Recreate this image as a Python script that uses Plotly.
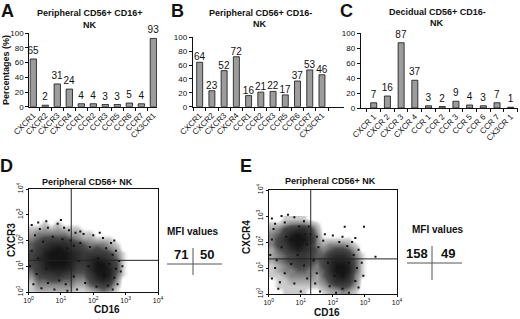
import plotly.graph_objects as go

W, H = 520, 319

# ---------------- data ----------------
receptors_AB = ["CXCR1", "CXCR2", "CXCR3", "CXCR4", "CCR1", "CCR2", "CCR3", "CCR5", "CCR6", "CCR7", "CX3CR1"]
receptors_C = ["CXCR 1", "CXCR 2", "CXCR 3", "CXCR 4", "CCR 1", "CCR 2", "CCR 3", "CCR 5", "CCR 6", "CCR 7", "CX3CR 1"]
pct_A = [65, 2, 31, 24, 4, 4, 3, 3, 5, 4, 93]
pct_B = [64, 23, 52, 72, 16, 21, 22, 17, 37, 53, 46]
pct_C = [7, 16, 87, 37, 3, 2, 9, 4, 3, 7, 1]

decade_ticks = [0, 1, 2, 3, 4]
decade_labels = ["10<sup>0</sup>", "10<sup>1</sup>", "10<sup>2</sup>", "10<sup>3</sup>", "10<sup>4</sup>"]

# density of events per 0.2-decade cell (rows listed from log y 3.0 down to 0.0; cols log x 0..4)
density_D = [
    "00000000000000000000",
    "00101000000000000000",
    "11212111000000000000",
    "23333322110000000000",
    "34555543221110000000",
    "45677765433321000000",
    "46789876545432000000",
    "56899987666653100000",
    "57899987678764100000",
    "56899986679975100000",
    "46788875579985100000",
    "35667654468984100000",
    "24455443357873000000",
    "13333332245652000000",
    "12222221123431000000",
]
density_E = [
    "00111100000000000000",
    "11233321000000000000",
    "23567752000000000000",
    "34689863000000000000",
    "35799973111110000000",
    "35689863233321000000",
    "24578764345542000000",
    "23456654467763100000",
    "23456654578874100000",
    "12345543579984100000",
    "12334433479984100000",
    "11233332468973100000",
    "01122222357763000000",
    "01111111234542000000",
    "00111100122321000000",
]
# individual events (log10 CD16, log10 receptor)
events_D_x = [0.1, 0.3, 0.55, 0.9, 1.1, 1.25, 1.45, 1.7, 2.0, 2.3, 2.55, 2.7, 2.8, 2.85, 2.75, 2.6, 1.5, 1.2, 0.8, 0.4,
              0.15, 0.05, 0.6, 1.3, 2.2, 1.0, 0.35, 2.9, 2.65, 1.6,
              0.2, 0.45, 0.75, 1.05, 1.2, 1.4, 1.6, 1.9, 2.4, 2.6, 2.7, 2.65, 2.45, 2.1, 1.75, 1.4, 1.15, 0.95, 0.6, 0.25,
              0.1, 0.3, 0.55, 0.85, 1.0, 1.55, 1.85, 2.15, 2.35, 2.5]
events_D_y = [2.6, 2.7, 2.75, 2.65, 2.5, 2.4, 2.3, 2.25, 2.2, 2.1, 1.9, 1.6, 1.2, 0.8, 0.3, 0.1, 0.1, 0.05, 0.1, 0.15,
              0.3, 1.0, 2.5, 2.0, 2.3, 2.8, 2.45, 1.0, 2.0, 2.35,
              2.2, 1.95, 2.15, 2.05, 1.7, 1.8, 1.9, 1.75, 1.7, 1.45, 0.9, 0.55, 0.25, 0.2, 0.35, 0.6, 0.3, 0.45, 0.35, 0.7,
              1.6, 1.3, 0.9, 1.5, 1.1, 1.2, 1.0, 1.3, 0.6, 1.1]
events_E_x = [0.1, 0.4, 0.8, 1.1, 1.25, 1.3, 1.5, 1.75, 2.0, 2.3, 2.6, 2.8, 2.9, 2.95, 2.8, 2.5, 1.6, 1.0, 0.3, 0.1,
              0.05, 0.15, 2.37, 2.97, 3.33, 0.6, 2.1, 1.45, 2.7, 0.2,
              0.2, 0.5, 0.95, 1.15, 1.2, 0.9, 1.1, 1.2, 0.8, 0.5, 0.25, 0.1, 0.55, 1.55, 1.7, 2.2, 2.45, 2.65, 2.75, 2.7,
              2.3, 1.9, 1.5, 1.4, 1.85, 2.05, 2.5, 0.35, 0.7, 0.4]
events_E_y = [2.9, 3.0, 2.95, 2.8, 2.6, 2.3, 2.2, 2.3, 2.25, 2.2, 2.0, 1.7, 1.2, 0.7, 0.25, 0.05, 0.1, 0.1, 0.2, 0.6,
              1.5, 2.5, 2.59, 2.59, 1.43, 3.05, 0.05, 0.4, 2.15, 1.0,
              2.7, 2.75, 2.6, 2.3, 1.9, 1.5, 1.1, 0.6, 0.4, 0.8, 1.3, 2.1, 2.2, 1.8, 2.05, 2.0, 1.85, 1.5, 1.0, 0.5,
              0.2, 0.3, 0.8, 1.3, 1.2, 0.7, 1.2, 0.45, 1.15, 1.8]
gate_D = (1.32, 1.23)
gate_E = (1.31, 1.35)
mfi_D = ["71", "50"]
mfi_E = ["158", "49"]

# ---------------- helpers ----------------
def fx(p):
    return p / W

def fy(p):
    return 1 - p / H

NARROW = "Liberation Sans Narrow, Arial Narrow, Liberation Sans, Arial"
SANS = "Liberation Sans, Arial, DejaVu Sans"

fig = go.Figure()

bar_panels = [
    ("x", "y", receptors_AB, pct_A, 0.53),
    ("x2", "y2", receptors_AB, pct_B, 0.49),
    ("x3", "y3", receptors_C, pct_C, 0.44),
]
for xa, ya, cats, vals, bw in bar_panels:
    fig.add_trace(go.Bar(
        x=cats, y=vals, xaxis=xa, yaxis=ya, width=bw,
        marker=dict(color="#9c9c9c", line=dict(color="#111", width=0.8)),
        text=vals, textposition="outside", cliponaxis=False, constraintext="none",
        textfont=dict(family=NARROW, size=10, color="#111"),
        hoverinfo="skip", showlegend=False,
    ))

def grid(rows):
    return [[int(c) for c in r] for r in reversed(rows)]

for xa, ya, dens, sx, sy in [("x4", "y4", density_D, events_D_x, events_D_y),
                             ("x5", "y5", density_E, events_E_x, events_E_y)]:
    fig.add_trace(go.Heatmap(
        z=grid(dens), x0=0.1, dx=0.2, y0=0.1, dy=0.2, xaxis=xa, yaxis=ya,
        zmin=0, zmax=9, zsmooth="best", showscale=False, hoverinfo="skip",
        colorscale=[[0, "rgba(255,255,255,0)"], [0.1, "#cfcfcf"], [0.5, "#4a4a4a"], [1, "#141414"]],
    ))
    fig.add_trace(go.Scatter(
        x=sx, y=sy, xaxis=xa, yaxis=ya, mode="markers",
        marker=dict(size=2, color="#111", symbol="square"),
        hoverinfo="skip", showlegend=False,
    ))

# ---------------- axes ----------------
bar_common_x = dict(type="category", showline=True, linecolor="#111", linewidth=1,
                    ticks="outside", tickson="boundaries", ticklen=3, tickcolor="#111",
                    tickangle=-45, tickfont=dict(family=NARROW, size=8, color="#111"),
                    showgrid=False, zeroline=False, fixedrange=True, automargin=False)
bar_common_y = dict(range=[0, 100], dtick=20, showline=True, linecolor="#111", linewidth=1,
                    ticks="outside", ticklen=3, tickcolor="#111",
                    tickfont=dict(family=NARROW, size=8, color="#111"),
                    showgrid=False, zeroline=False, fixedrange=True, automargin=False)

layout_axes = {}
layout_axes["xaxis"] = dict(bar_common_x, domain=[fx(29.3), fx(157)], range=[-0.33, 10.3], anchor="y")
layout_axes["yaxis"] = dict(bar_common_y, domain=[fy(106.7), fy(33.3)], anchor="x")
layout_axes["xaxis2"] = dict(bar_common_x, domain=[fx(192.7), fx(344)], range=[-0.57, 11.8], anchor="y2")
layout_axes["yaxis2"] = dict(bar_common_y, domain=[fy(106.7), fy(37.3)], anchor="x2")
layout_axes["xaxis3"] = dict(bar_common_x, domain=[fx(360.7), fx(518)], range=[-0.95, 10.53], anchor="y3")
layout_axes["yaxis3"] = dict(bar_common_y, domain=[fy(108), fy(33)], anchor="x3")

flow_x = dict(range=[0, 4], tickvals=decade_ticks, ticktext=decade_labels, showline=True, mirror=True,
              linecolor="#111", linewidth=1, ticks="outside", ticklen=2, tickcolor="#111",
              tickfont=dict(family=SANS, size=7, color="#111"), showgrid=False, zeroline=False,
              fixedrange=True, automargin=False)
flow_y = dict(flow_x, tickangle=-90)
layout_axes["xaxis4"] = dict(flow_x, domain=[fx(28.5), fx(158)], anchor="y4")
layout_axes["yaxis4"] = dict(flow_y, domain=[fy(292), fy(189)], anchor="x4")
layout_axes["xaxis5"] = dict(flow_x, domain=[fx(268.7), fx(397)], anchor="y5")
layout_axes["yaxis5"] = dict(flow_y, domain=[fy(294), fy(190)], anchor="x5")

# ---------------- shapes ----------------
shapes = []
for xa, ya, (gx, gy) in [("x4", "y4", gate_D), ("x5", "y5", gate_E)]:
    shapes.append(dict(type="line", xref=xa, yref=ya, x0=gx, x1=gx, y0=0, y1=4,
                       line=dict(color="#222", width=1)))
    shapes.append(dict(type="line", xref=xa, yref=ya, x0=0, x1=4, y0=gy, y1=gy,
                       line=dict(color="#222", width=1)))
# MFI crosses
for hx0, hx1, hy, vx, vy0, vy1 in [(167, 222, 264, 193, 248, 275), (407, 462, 263, 432, 246, 280)]:
    shapes.append(dict(type="line", xref="paper", yref="paper", x0=fx(hx0), x1=fx(hx1), y0=fy(hy), y1=fy(hy),
                       line=dict(color="#555", width=1)))
    shapes.append(dict(type="line", xref="paper", yref="paper", x0=fx(vx), x1=fx(vx), y0=fy(vy0), y1=fy(vy1),
                       line=dict(color="#555", width=1)))

# ---------------- annotations ----------------
ann = []
def text(t, x, y, size, family=SANS, angle=0, bold=True):
    ann.append(dict(text=("<b>%s</b>" % t) if bold else t, x=fx(x), y=fy(y), xref="paper", yref="paper",
                    showarrow=False, xanchor="center", yanchor="middle", textangle=angle,
                    font=dict(family=family, size=size, color="#111")))

for letter, x, y in [("A", 7, 11), ("B", 177, 11), ("C", 346, 11), ("D", 6, 166), ("E", 246, 166)]:
    text(letter, x, y, 18)
text("Peripheral CD56+ CD16+", 90, 13, 9, NARROW)
text("NK", 90, 25, 9, NARROW)
text("Peripheral CD56+ CD16-", 260, 13, 9, NARROW)
text("NK", 260, 24, 9, NARROW)
text("Decidual CD56+ CD16-", 437, 12, 9, NARROW)
text("NK", 437, 23, 9, NARROW)
text("Percentages (%)", 6, 70, 9, SANS, -90)

text("Peripheral CD56+ NK", 87, 182, 9)
text("Peripheral CD56+ NK", 330, 181, 9)
text("CXCR3", 11, 240, 10, SANS, -90)
text("CXCR4", 246, 237, 10, SANS, -90)
text("CD16", 107, 309, 10)
text("CD16", 327, 312, 10)
text("MFI values", 193, 231, 10)
text("MFI values", 438, 229, 10)
text(mfi_D[0], 181, 254, 13)
text(mfi_D[1], 207, 254, 13)
text(mfi_E[0], 417, 253, 13)
text(mfi_E[1], 448, 253, 13)

fig.update_layout(
    template="none",
    width=W, height=H, margin=dict(l=0, r=0, t=0, b=0, pad=0),
    paper_bgcolor="white", plot_bgcolor="rgba(0,0,0,0)",
    showlegend=False, shapes=shapes, annotations=ann,
    font=dict(family=SANS, color="#111"),
    **layout_axes,
)

fig.write_html("out.html", config={"displayModeBar": False},
               post_script="document.body.style.margin='0px';document.body.style.padding='0px';")
